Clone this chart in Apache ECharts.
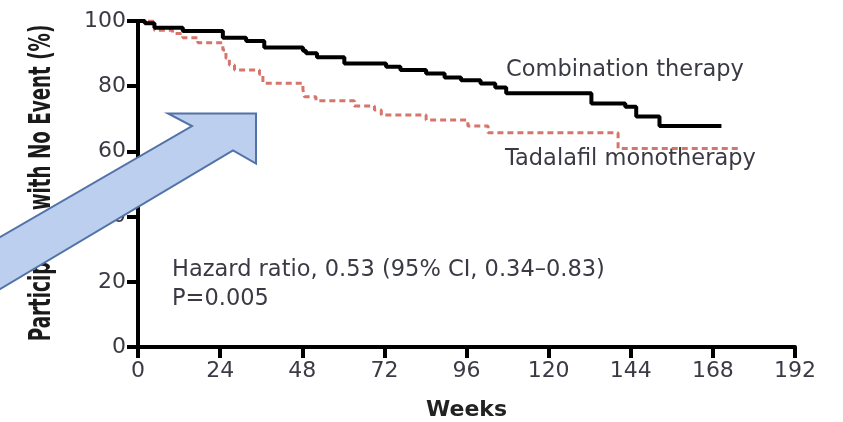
<!DOCTYPE html>
<html>
<head>
<meta charset="utf-8">
<script src="https://cdn.jsdelivr.net/npm/echarts@6/dist/echarts.min.js"></script>
<style>
html,body{margin:0;padding:0;background:#fff;}
#chart{width:843px;height:422px;}
</style>
</head>
<body>
<div id="chart"></div>
<script>
// ---- data ----
const xTicks = [0, 24, 48, 72, 96, 120, 144, 168, 192];
const yTicks = [0, 20, 40, 60, 80, 100];

const combWeeks = [0, 2, 4.8, 13.1, 24.8, 31.6, 36.9, 48.2, 49.1, 52.3, 60.3, 72.5, 76.7, 84.2, 89.6, 94.4, 100.1, 104.4, 107.6, 132.5, 142.4, 145.6, 152.4, 170.5];
const combPct   = [100, 99.3, 97.9, 96.9, 94.9, 93.9, 91.9, 90.9, 90.1, 88.9, 87.0, 86.0, 85.0, 83.9, 82.7, 81.8, 80.8, 79.6, 77.8, 74.7, 73.7, 70.7, 67.8, 67.8];

const monoWeeks = [0, 4.8, 10.1, 13.1, 17.5, 24.8, 25.7, 26.7, 28.2, 35.5, 36.5, 48.2, 48.6, 52.0, 63.2, 69.1, 71.1, 84.2, 96.4, 102.3, 140.3, 175.8];
const monoPct   = [100, 97.2, 96.2, 94.9, 93.3, 91.1, 88.6, 86.5, 85.0, 83.7, 80.9, 79.0, 76.8, 75.5, 73.9, 72.7, 71.2, 69.6, 67.8, 65.7, 60.9, 60.9];

const seriesNames = ['Combination therapy', 'Tadalafil monotherapy'];
const xName = 'Weeks';
const yName = 'Participants with No Event (%)';
const noteLines = ['Hazard ratio, 0.53 (95% CI, 0.34\u20130.83)', 'P=0.005'];

// ---- chart ----
const zip = (a, b) => a.map((v, i) => [v, b[i]]);
const FONT = 'DejaVu Sans';
const TXT = '#3a3a44';
const ANN_FONT = '22.5px "DejaVu Sans"';

const chart = echarts.init(document.getElementById('chart'), null, {renderer: 'canvas'});
chart.setOption({
  animation: false,
  backgroundColor: '#ffffff',
  grid: {left: 138, right: 48, top: 21, bottom: 75, containLabel: false, outerBoundsMode: 'none'},
  xAxis: {
    type: 'value', min: xTicks[0], max: xTicks[xTicks.length - 1], interval: 24,
    name: xName, nameLocation: 'middle', nameGap: 52,
    nameTextStyle: {fontFamily: FONT, fontWeight: 'bold', fontSize: 22, color: '#222'},
    axisLine: {lineStyle: {color: '#000', width: 4}},
    axisTick: {show: true, length: 11, lineStyle: {color: '#000', width: 4}},
    axisLabel: {fontFamily: FONT, fontSize: 22, color: TXT, margin: 13},
    splitLine: {show: false}
  },
  yAxis: {
    type: 'value', min: yTicks[0], max: yTicks[yTicks.length - 1], interval: 20,
    axisLine: {show: true, lineStyle: {color: '#000', width: 4}},
    axisTick: {show: true, length: 11, lineStyle: {color: '#000', width: 4}},
    axisLabel: {fontFamily: FONT, fontSize: 22, color: TXT, margin: 12, padding: [0, 0, 7, 0]},
    splitLine: {show: false}
  },
  series: [
    {
      name: seriesNames[1], type: 'line', step: 'end', symbol: 'none',
      data: zip(monoWeeks, monoPct),
      lineStyle: {color: '#cf5d51', width: 3, type: [6, 4], opacity: 0.85},
      z: 2
    },
    {
      name: seriesNames[0], type: 'line', step: 'end', symbol: 'none',
      data: zip(combWeeks, combPct),
      lineStyle: {color: '#000', width: 4},
      z: 3
    }
  ],
  graphic: [
    {type: 'text', left: 506, top: 59, style: {text: seriesNames[0], font: ANN_FONT, fill: TXT}},
    {type: 'text', left: 505, top: 148, style: {text: seriesNames[1], font: ANN_FONT, fill: TXT}},
    {type: 'text', left: 172, top: 259, style: {text: noteLines[0], font: ANN_FONT, fill: TXT}},
    {type: 'text', left: 172, top: 288, style: {text: noteLines[1], font: ANN_FONT, fill: TXT}},
    {type: 'text', x: 42, y: 183, rotation: Math.PI / 2, scaleX: 0.61, scaleY: 1,
     style: {text: yName, font: 'bold 30px "DejaVu Sans"', fill: '#1a1a1a', textAlign: 'center', textVerticalAlign: 'middle'}},
    {type: 'polygon', z: 100,
     shape: {points: [[-10, 243], [192, 126], [168, 113.5], [256, 113.5], [256, 163.5], [233, 150.5], [-10, 295]]},
     style: {fill: '#bccfee', stroke: '#5273a8', lineWidth: 2}}
  ]
});
</script>
</body>
</html>
